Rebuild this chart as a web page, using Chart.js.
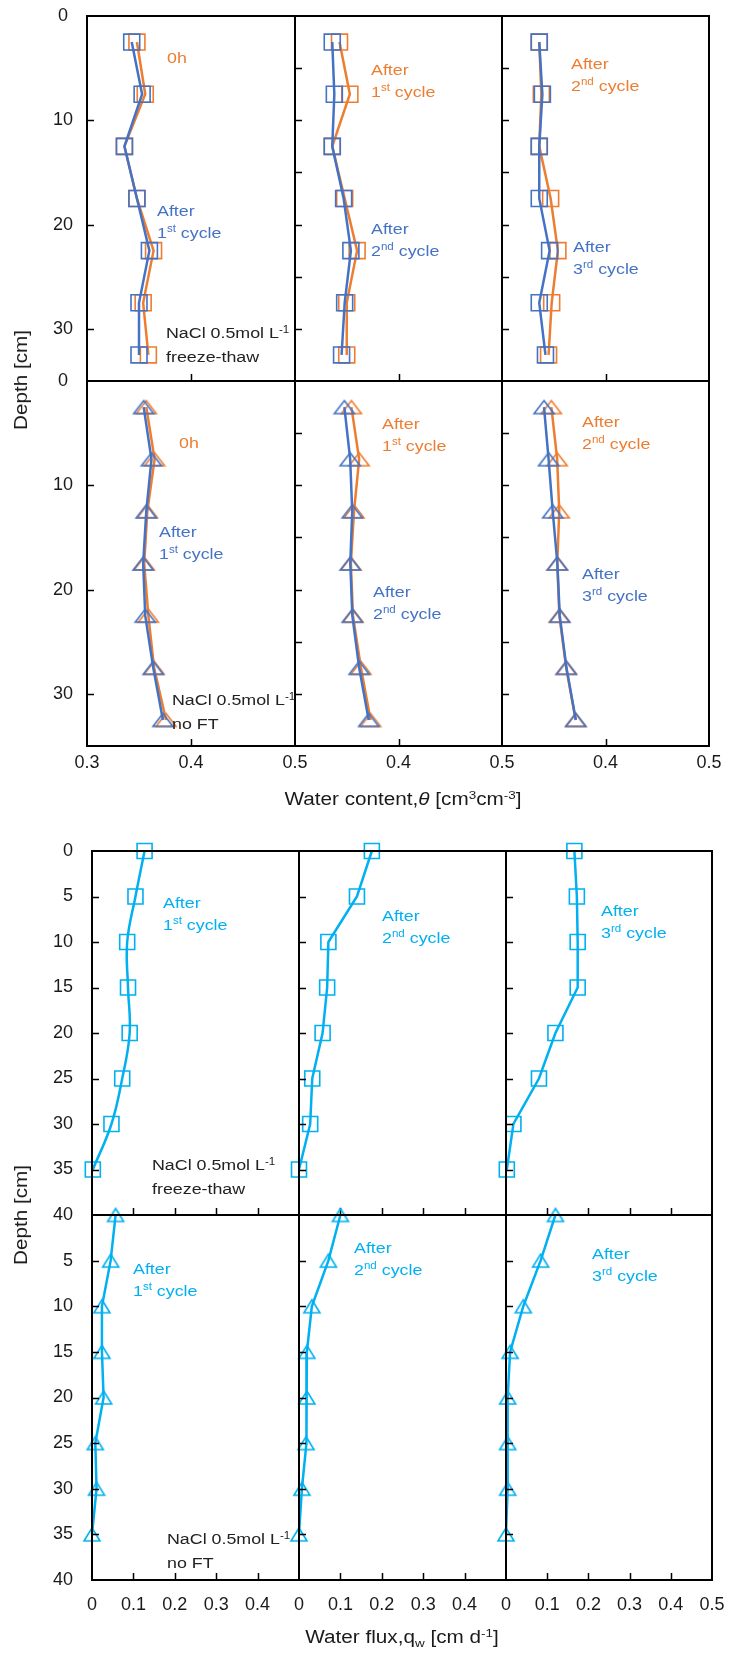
<!DOCTYPE html>
<html><head><meta charset="utf-8">
<script src="https://cdn.jsdelivr.net/npm/chart.js@4.4.1/dist/chart.umd.min.js"></script>
<style>
html,body{margin:0;padding:0;background:#fff;}
#root{position:relative;width:729px;height:1654px;overflow:hidden;font-family:"Liberation Sans",Arial,sans-serif;color:#1a1a1a;}
canvas{position:absolute;}
.t{position:absolute;white-space:nowrap;font-size:15.5px;line-height:21.5px;transform-origin:left top;transform:scaleX(1.15);}
.s{font-size:0.65em;position:relative;top:-0.55em;}
.b{font-size:0.65em;position:relative;top:0.3em;}
.ax{position:absolute;white-space:nowrap;font-size:18px;line-height:22px;transform-origin:center center;}
</style></head>
<body><div id="root"></div>
<script>
const ORANGE = '#ED7D31', BLUE = '#4472C4', CYAN = '#00B0F0';
const FONT = '"Liberation Sans", Arial, sans-serif';

// ---------- data ----------
const depthTheta = [2.5, 7.5, 12.5, 17.5, 22.5, 27.5, 32.5];
// freeze-thaw, water content
const thetaFT0h    = [0.348, 0.356, 0.336, 0.348, 0.364, 0.354, 0.359];
const thetaFTcyc1  = [0.343, 0.353, 0.336, 0.348, 0.360, 0.350, 0.350];
const thetaFTcyc2  = [0.336, 0.338, 0.336, 0.347, 0.354, 0.348, 0.345];
const thetaFTcyc3  = [0.336, 0.339, 0.336, 0.336, 0.346, 0.336, 0.342];
// no FT, water content
const thetaNF0h    = [0.357, 0.365, 0.358, 0.355, 0.359, 0.3645, 0.376];
const thetaNFcyc1  = [0.3545, 0.362, 0.357, 0.354, 0.356, 0.3637, 0.373];
const thetaNFcyc2  = [0.3477, 0.3533, 0.3553, 0.3534, 0.3554, 0.362, 0.3712];
const thetaNFcyc3  = [0.3406, 0.345, 0.349, 0.3535, 0.3558, 0.3623, 0.3713];

const depthFlux = [0, 5, 10, 15, 20, 25, 30, 35];
const fluxFTcyc1 = [0.127, 0.105, 0.085, 0.087, 0.091, 0.073, 0.047, 0.002];
const fluxFTcyc2 = [0.176, 0.140, 0.071, 0.068, 0.057, 0.032, 0.027, 0.0];
const fluxFTcyc3 = [0.166, 0.172, 0.174, 0.174, 0.120, 0.080, 0.018, 0.002];
const fluxNFcyc1 = [0.057, 0.045, 0.024, 0.024, 0.028, 0.008, 0.011, 0.0];
const fluxNFcyc2 = [0.100, 0.071, 0.031, 0.019, 0.019, 0.017, 0.007, 0.0];
const fluxNFcyc3 = [0.120, 0.084, 0.042, 0.010, 0.004, 0.004, 0.004, 0.0];

// tick labels
const thetaXLabelsFirst = [0.3, 0.4, 0.5];
const thetaXLabelsOther = [0.4, 0.5];
const thetaYLabels = [0, 10, 20, 30];
const fluxXLabelsFirst = [0, 0.1, 0.2, 0.3, 0.4];
const fluxXLabelsLast = [0, 0.1, 0.2, 0.3, 0.4, 0.5];
const fluxYLabelsTop = [0, 5, 10, 15, 20, 25, 30, 35, 40];
const fluxYLabelsBottom = [5, 10, 15, 20, 25, 30, 35, 40];

// ---------- helpers ----------
const root = document.getElementById('root');
function pts(xs, ys) { return xs.map((v, i) => ({x: v, y: ys[i]})); }
function triImg(color, w, h, lw) {
  const c = document.createElement('canvas');
  c.width = w + 4; c.height = h + 4;
  const g = c.getContext('2d');
  g.strokeStyle = color; g.lineWidth = lw; g.lineJoin = 'miter';
  g.beginPath(); g.moveTo((w + 4) / 2, 2); g.lineTo(w + 2, h + 2); g.lineTo(2, h + 2); g.closePath(); g.stroke();
  return c;
}
const triOrangeBig = triImg(ORANGE, 20, 13, 1.6);
const triBlueBig = triImg(BLUE, 20, 13, 1.6);
const triCyan = triImg(CYAN, 16, 13, 1.6);

function ds(values, depths, color, style, radius, tension) {
  return {
    data: pts(values, depths), showLine: true, borderColor: color, borderWidth: 2.5,
    pointStyle: style, pointRadius: radius, pointBorderColor: color,
    pointBackgroundColor: 'rgba(0,0,0,0)', pointBorderWidth: 1.6,
    tension: tension || 0, clip: false
  };
}

const framePlugin = {
  id: 'frame',
  afterDraw(chart, args, opts) {
    const {ctx, chartArea: a, scales: {x, y}} = chart;
    ctx.save();
    ctx.strokeStyle = '#000';
    ctx.lineWidth = 1.5;
    ctx.beginPath();
    for (const v of opts.yMarks) { const py = Math.round(y.getPixelForValue(v)) + 0.5; ctx.moveTo(a.left, py); ctx.lineTo(a.left + 7, py); }
    for (const v of opts.xMarks) { const px = Math.round(x.getPixelForValue(v)) + 0.5; ctx.moveTo(px, a.bottom); ctx.lineTo(px, a.bottom - 7); }
    ctx.stroke();
    ctx.lineWidth = 2;
    ctx.strokeRect(a.left, a.top, a.right - a.left, a.bottom - a.top);
    ctx.restore();
  }
};

function makePanel(p) {
  const ML = 70, MR = 45, MT = 40, MB = 45;
  const c = document.createElement('canvas');
  const W = p.w + ML + MR, H = p.h + MT + MB;
  c.width = W; c.height = H;
  c.style.left = (p.x - ML) + 'px'; c.style.top = (p.y - MT) + 'px';
  c.style.width = W + 'px'; c.style.height = H + 'px';
  root.appendChild(c);
  new Chart(c, {
    type: 'scatter',
    data: {datasets: p.datasets},
    options: {
      responsive: false, animation: false, events: [],
      layout: {padding: {left: 0, right: MR, top: MT, bottom: 0}},
      plugins: {legend: {display: false}, tooltip: {enabled: false}, frame: {yMarks: p.yMarks, xMarks: p.xMarks}},
      scales: {
        x: {
          type: 'linear', position: 'bottom', min: p.xMin, max: p.xMax,
          afterFit: s => { s.height = MB; },
          afterBuildTicks: s => { s.ticks = p.xLabels.map(v => ({value: v})); },
          grid: {display: false, drawTicks: false}, border: {display: false},
          ticks: {display: p.showX, padding: p.xPad, font: {family: FONT, size: 18}, color: '#1a1a1a',
                  maxRotation: 0, autoSkip: false, callback: v => String(v)}
        },
        y: {
          type: 'linear', position: 'left', min: p.yMin, max: p.yMax, reverse: true,
          afterFit: s => { s.width = ML; },
          afterBuildTicks: s => { s.ticks = p.yLabels.map(v => ({value: v})); },
          grid: {display: false, drawTicks: false}, border: {display: false},
          ticks: {display: p.showY, padding: p.yPad, crossAlign: p.yAlign, font: {family: FONT, size: 18}, color: '#1a1a1a',
                  autoSkip: false, callback: v => String(v)}
        }
      }
    },
    plugins: [framePlugin]
  });
}

// ---------- water content panels ----------
const TX = [87, 295, 502, 709], TY = [16, 381, 746];
const thetaPairs = [
  [[thetaFT0h, thetaFTcyc1], [thetaFTcyc1, thetaFTcyc2], [thetaFTcyc2, thetaFTcyc3]],
  [[thetaNF0h, thetaNFcyc1], [thetaNFcyc1, thetaNFcyc2], [thetaNFcyc2, thetaNFcyc3]]
];
for (let r = 0; r < 2; r++) {
  for (let col = 0; col < 3; col++) {
    const [o, b] = thetaPairs[r][col];
    const sq = r === 0;
    makePanel({
      x: TX[col], y: TY[r], w: TX[col + 1] - TX[col], h: TY[r + 1] - TY[r],
      xMin: 0.3, xMax: 0.5, yMin: 0, yMax: 35,
      xLabels: col === 0 ? thetaXLabelsFirst : thetaXLabelsOther, yLabels: thetaYLabels,
      showX: r === 1, showY: col === 0, xPad: 6, yPad: 14, yAlign: 'center',
      xMarks: [0.4], yMarks: col === 0 ? [10, 20, 30] : [5, 10, 15, 20, 25, 30],
      datasets: [
        ds(b, depthTheta, BLUE, sq ? 'rect' : triBlueBig, sq ? 11.3 : 8),
        ds(o, depthTheta, ORANGE, sq ? 'rect' : triOrangeBig, sq ? 11.3 : 8)
      ]
    });
  }
}

// ---------- water flux panels ----------
const BX = [92, 299, 506, 712], BY = [851, 1215, 1580];
const fluxSeries = [[fluxFTcyc1, fluxFTcyc2, fluxFTcyc3], [fluxNFcyc1, fluxNFcyc2, fluxNFcyc3]];
for (let r = 0; r < 2; r++) {
  for (let col = 0; col < 3; col++) {
    const sq = r === 0;
    makePanel({
      x: BX[col], y: BY[r], w: BX[col + 1] - BX[col], h: BY[r + 1] - BY[r],
      xMin: 0, xMax: 0.5, yMin: 0, yMax: 40,
      xLabels: col === 2 ? fluxXLabelsLast : fluxXLabelsFirst, yLabels: r === 0 ? fluxYLabelsTop : fluxYLabelsBottom,
      showX: r === 1, showY: col === 0, xPad: 14, yPad: 19, yAlign: 'near',
      xMarks: [0.1, 0.2, 0.3, 0.4], yMarks: [5, 10, 15, 20, 25, 30, 35],
      datasets: [ds(fluxSeries[r][col], depthFlux, CYAN, sq ? 'rect' : triCyan, sq ? 10.6 : 8, (r === 0 && col === 0) ? 0.4 : 0)]
    });
  }
}

// ---------- text ----------
function txt(html, left, cy, color) {
  const d = document.createElement('div');
  d.className = 't';
  d.style.left = left + 'px';
  d.style.top = (cy - 10.75) + 'px';
  d.style.color = color;
  d.innerHTML = html;
  root.appendChild(d);
}
const after = n => 'After<br>' + n + ' cycle';
const c1 = '1<span class="s">st</span>', c2 = '2<span class="s">nd</span>', c3 = '3<span class="s">rd</span>';
const nacl = 'NaCl 0.5mol L<span class="s">-1</span><br>';
const DARK = '#222';
// water content
txt('0h', 167, 58, ORANGE);
txt(after(c1), 157, 211, BLUE);
txt(nacl + 'freeze-thaw', 166, 333, DARK);
txt(after(c1), 371, 70, ORANGE);
txt(after(c2), 371, 229, BLUE);
txt(after(c2), 571, 64, ORANGE);
txt(after(c3), 573, 247, BLUE);
txt('0h', 179, 443, ORANGE);
txt(after(c1), 159, 532, BLUE);
txt(nacl + 'no FT', 172, 700, DARK);
txt(after(c1), 382, 424, ORANGE);
txt(after(c2), 373, 592, BLUE);
txt(after(c2), 582, 422, ORANGE);
txt(after(c3), 582, 574, BLUE);
// water flux
txt(after(c1), 163, 903, CYAN);
txt(nacl + 'freeze-thaw', 152, 1165, DARK);
txt(after(c2), 382, 916, CYAN);
txt(after(c3), 601, 911, CYAN);
txt(after(c1), 133, 1269, CYAN);
txt(nacl + 'no FT', 167, 1539, DARK);
txt(after(c2), 354, 1248, CYAN);
txt(after(c3), 592, 1254, CYAN);

function axTitle(html, cx, cy, rot) {
  const d = document.createElement('div');
  d.className = 'ax';
  d.style.left = cx + 'px'; d.style.top = cy + 'px';
  d.style.transform = 'translate(-50%,-50%)' + (rot ? ' rotate(-90deg)' : '') + ' scaleX(1.15)';
  d.innerHTML = html;
  root.appendChild(d);
}
axTitle('Water content,<i>θ</i> [cm<span class="s">3</span>cm<span class="s">-3</span>]', 403, 800, false);
axTitle('Water flux,q<span class="b">w</span> [cm d<span class="s">-1</span>]', 402, 1638, false);
axTitle('Depth [cm]', 21, 380, true);
axTitle('Depth [cm]', 21, 1215, true);
</script>
</body></html>
